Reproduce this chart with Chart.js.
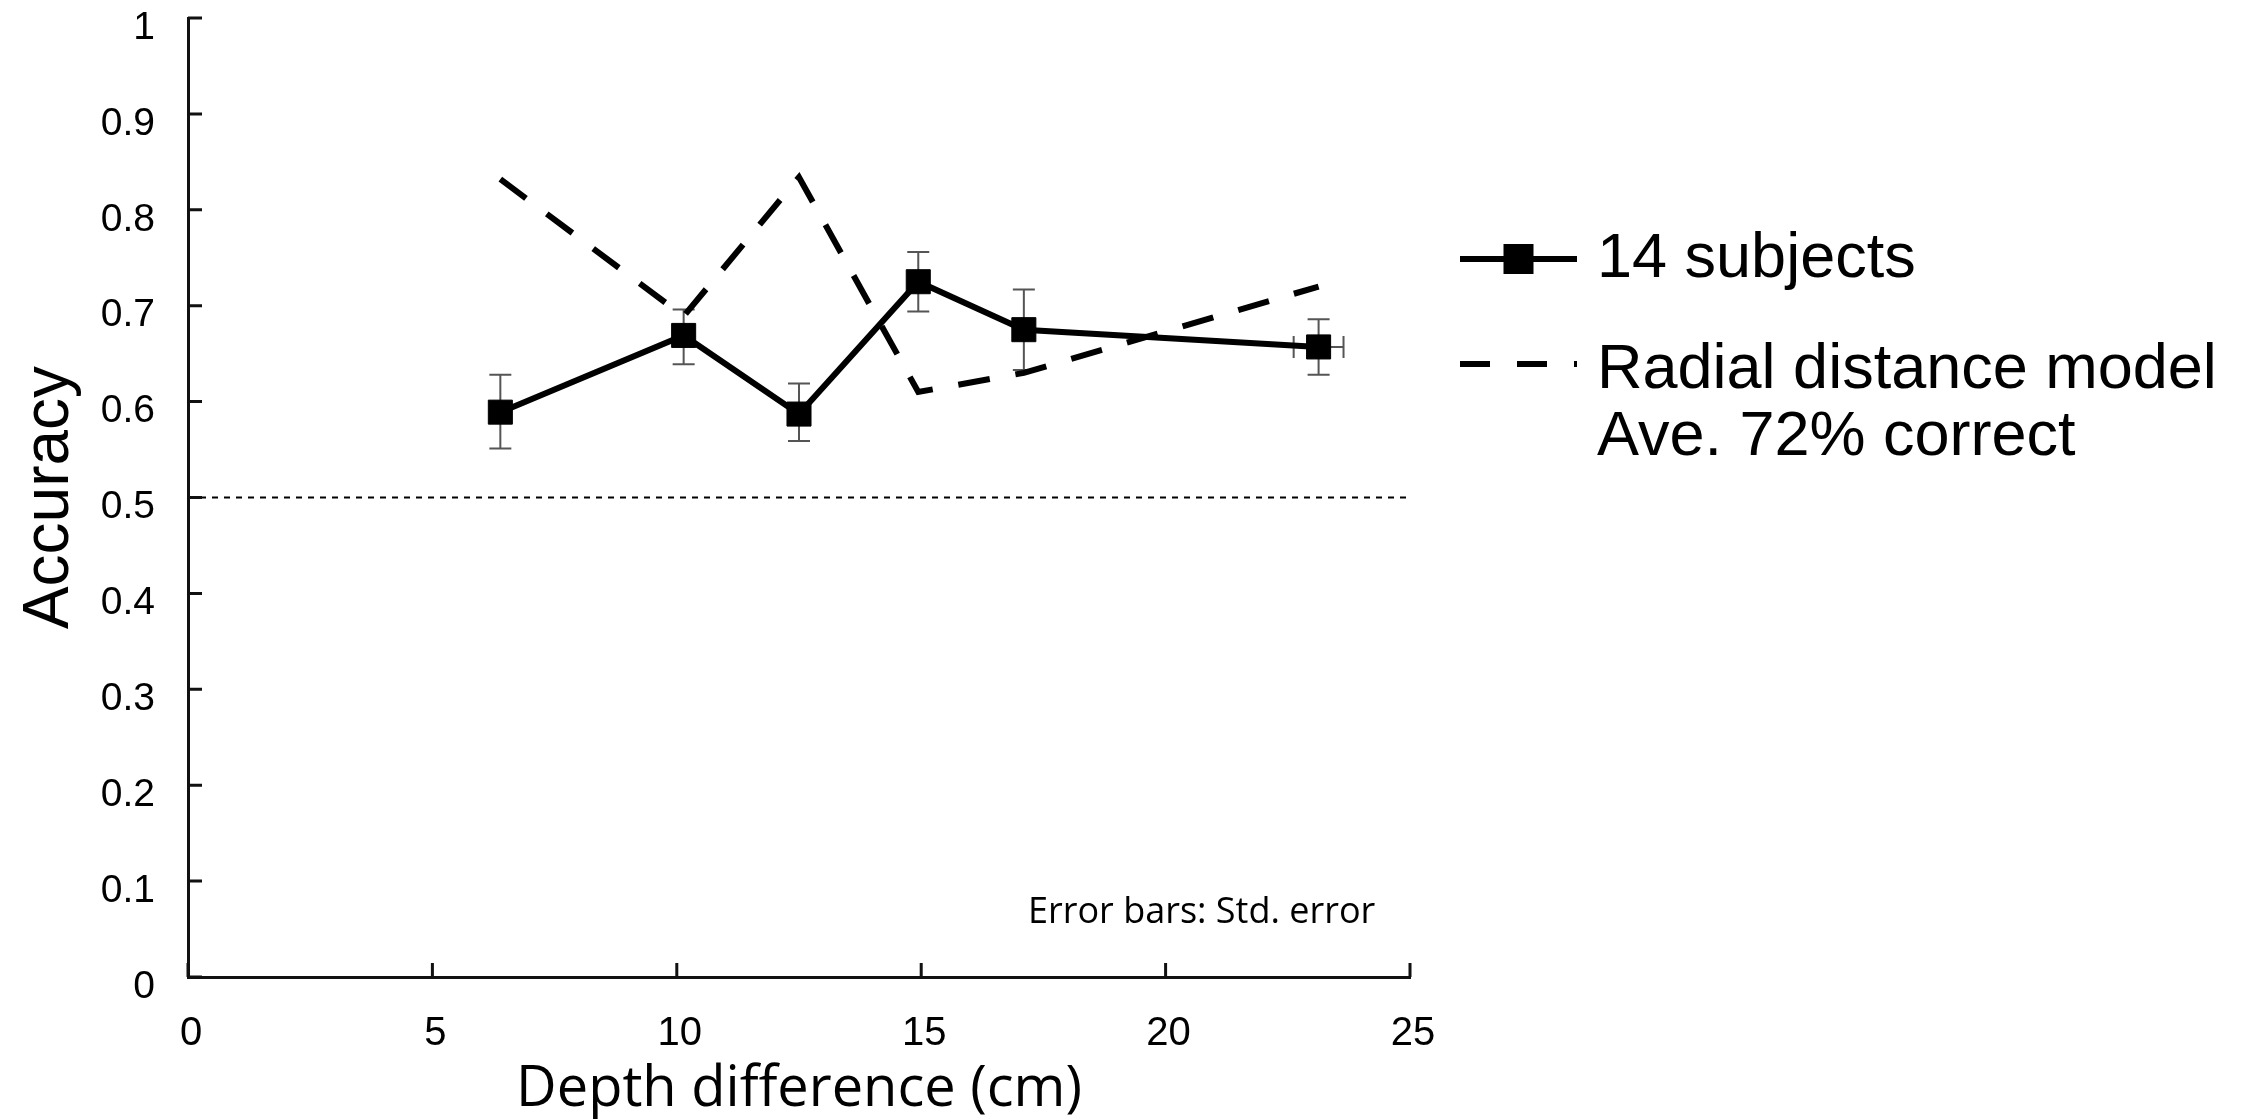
<!DOCTYPE html>
<html>
<head>
<meta charset="utf-8">
<title>Accuracy vs depth difference</title>
<script src="https://cdn.jsdelivr.net/npm/chart.js@4.4.1/dist/chart.umd.min.js"></script>
<style>
  html, body { margin: 0; padding: 0; background: #fff; }
  #wrap { width: 2248px; height: 1119px; }
</style>
</head>
<body>
<div id="wrap"><canvas id="accChart" width="2248" height="1119"></canvas></div>
<script>
// depth difference (cm) of each condition
const depthDiff = [6.39, 10.14, 12.50, 14.94, 17.10, 23.13];
// measured accuracy (14 subjects) with std. error bounds
const subjAcc = [0.589, 0.669, 0.587, 0.725, 0.675, 0.657];
const errHigh = [0.628, 0.696, 0.619, 0.756, 0.717, 0.686];
const errLow = [0.551, 0.639, 0.559, 0.694, 0.633, 0.628];
// horizontal error only visible on the last condition
const depthErr = [0, 0, 0, 0, 0, 0.51];
// radial distance model prediction
const modelAcc = [0.832, 0.689, 0.834, 0.610, 0.630, 0.720];
const chanceLevel = 0.5;

const xTicks = [0, 5, 10, 15, 20, 25];
const yTicks = [0, 0.1, 0.2, 0.3, 0.4, 0.5, 0.6, 0.7, 0.8, 0.9, 1];

const subjLabel = '14 subjects';
const modelLabel = ['Radial distance model', 'Ave. 72% correct'];
const noteText = 'Error bars: Std. error';

const ARIAL = 'Liberation Sans, Arial, sans-serif';
const CALIBRI = 'Open Sans, Carlito, sans-serif';

// inward tick marks, error bars, note and legend
const extrasPlugin = {
  id: 'extras',
  beforeDatasetsDraw(chart) {
    const { ctx, scales: { x, y } } = chart;
    ctx.save();
    ctx.strokeStyle = '#555';
    ctx.lineWidth = 2;
    const cap = 11;
    depthDiff.forEach((d, i) => {
      const px = x.getPixelForValue(d);
      const top = y.getPixelForValue(errHigh[i]);
      const bot = y.getPixelForValue(errLow[i]);
      ctx.beginPath();
      ctx.moveTo(px, top); ctx.lineTo(px, bot);
      ctx.moveTo(px - cap, top); ctx.lineTo(px + cap, top);
      ctx.moveTo(px - cap, bot); ctx.lineTo(px + cap, bot);
      if (depthErr[i] > 0) {
        const py = y.getPixelForValue(subjAcc[i]);
        const l = x.getPixelForValue(d - depthErr[i]);
        const r = x.getPixelForValue(d + depthErr[i]);
        ctx.moveTo(l, py); ctx.lineTo(r, py);
        ctx.moveTo(l, py - cap); ctx.lineTo(l, py + cap);
        ctx.moveTo(r, py - cap); ctx.lineTo(r, py + cap);
      }
      ctx.stroke();
    });
    ctx.restore();
  },
  afterDraw(chart) {
    const { ctx, scales: { x, y } } = chart;
    ctx.save();
    // tick marks pointing into the plot
    ctx.strokeStyle = '#111';
    ctx.lineWidth = 3;
    ctx.beginPath();
    yTicks.forEach(v => {
      const py = y.getPixelForValue(v);
      ctx.moveTo(x.left, py); ctx.lineTo(x.left + 14, py);
    });
    xTicks.forEach(v => {
      const px = x.getPixelForValue(v);
      ctx.moveTo(px, y.bottom); ctx.lineTo(px, y.bottom - 14);
    });
    ctx.stroke();

    // note in lower right of plot
    ctx.fillStyle = '#000';
    ctx.font = '36px ' + CALIBRI;
    ctx.textAlign = 'left';
    ctx.textBaseline = 'alphabetic';
    ctx.fillText(noteText, 1028, 923);

    // legend
    const lx = 1460, len = 117, tx = 1597;
    ctx.strokeStyle = '#000';
    ctx.lineWidth = 6;
    ctx.beginPath();
    ctx.moveTo(lx, 259); ctx.lineTo(lx + len, 259);
    ctx.stroke();
    ctx.fillRect(lx + len / 2 - 15, 259 - 15, 30, 30);
    ctx.setLineDash([30, 27]);
    ctx.beginPath();
    ctx.moveTo(lx, 364); ctx.lineTo(lx + len, 364);
    ctx.stroke();
    ctx.setLineDash([]);
    ctx.font = '63px ' + ARIAL;
    ctx.fillText(subjLabel, tx, 277);
    ctx.fillText(modelLabel[0], tx, 388);
    ctx.fillText(modelLabel[1], tx, 455);
    ctx.restore();
  }
};

const toPoints = (xs, ys) => xs.map((v, i) => ({ x: v, y: ys[i] }));

new Chart(document.getElementById('accChart'), {
  type: 'scatter',
  data: {
    datasets: [
      {
        label: subjLabel,
        data: toPoints(depthDiff, subjAcc),
        showLine: true,
        borderColor: '#000',
        borderWidth: 6,
        pointStyle: 'rect',
        pointRadius: 17,
        pointBackgroundColor: '#000',
        pointBorderColor: '#000',
        pointBorderWidth: 1,
        order: 1
      },
      {
        label: modelLabel.join(' '),
        data: toPoints(depthDiff, modelAcc),
        showLine: true,
        borderColor: '#000',
        borderWidth: 6,
        borderDash: [32, 26],
        pointRadius: 0,
        order: 2
      },
      {
        label: 'chance',
        data: toPoints([xTicks[0], xTicks[xTicks.length - 1]], [chanceLevel, chanceLevel]),
        showLine: true,
        borderColor: '#000',
        borderWidth: 2,
        borderDash: [6, 6],
        pointRadius: 0,
        order: 3
      }
    ]
  },
  options: {
    responsive: false,
    animation: false,
    devicePixelRatio: 1,
    layout: { padding: { top: 13.5, right: 838, bottom: 0, left: 0 } },
    plugins: {
      legend: { display: false },
      tooltip: { enabled: false }
    },
    scales: {
      x: {
        type: 'linear',
        min: 0,
        max: 25,
        afterBuildTicks: s => { s.ticks = xTicks.map(v => ({ value: v })); },
        afterFit: s => { s.height = 142; s.paddingLeft = 0; s.paddingRight = 0; },
        grid: { display: false },
        border: { display: true, color: '#111', width: 3 },
        ticks: {
          font: { family: ARIAL, size: 40 },
          color: '#000',
          padding: 25,
          labelOffset: 3,
          maxRotation: 0,
          callback: v => String(v)
        },
        title: {
          display: true,
          text: 'Depth difference (cm)',
          color: '#000',
          font: { family: CALIBRI, size: 56, lineHeight: 1 },
          padding: { top: 0, bottom: 1 }
        }
      },
      y: {
        type: 'linear',
        min: 0,
        max: 1,
        afterBuildTicks: s => { s.ticks = yTicks.map(v => ({ value: v })); },
        afterFit: s => { s.width = 188; s.paddingTop = 0; s.paddingBottom = 0; },
        grid: { display: false },
        border: { display: true, color: '#111', width: 3 },
        ticks: {
          font: { family: ARIAL, size: 39 },
          color: '#000',
          padding: 25,
          labelOffset: 10,
          callback: v => String(v)
        },
        title: {
          display: true,
          text: 'Accuracy',
          color: '#000',
          font: { family: ARIAL, size: 64, lineHeight: 1 },
          padding: { top: 18, bottom: 0 }
        }
      }
    }
  },
  plugins: [extrasPlugin]
});
</script>
</body>
</html>
